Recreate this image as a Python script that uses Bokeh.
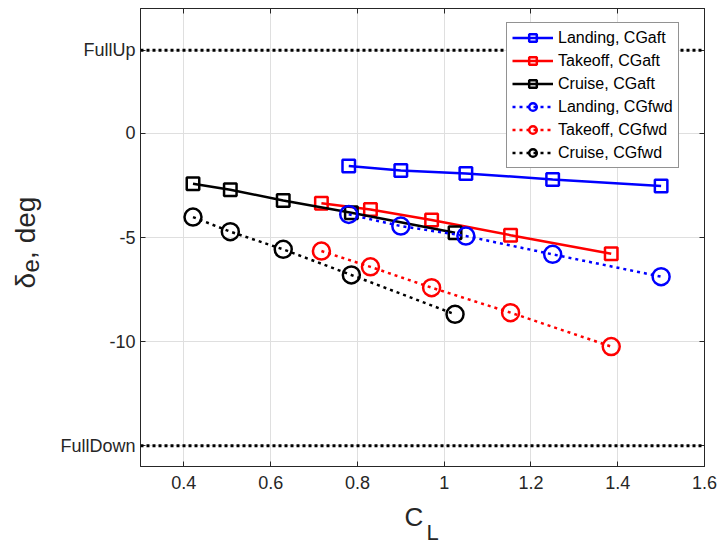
from bokeh.plotting import figure
from bokeh.models import (Range1d, FixedTicker, LinearAxis, Span, Title,
                          Legend, LegendItem)
from bokeh.embed import file_html
from bokeh.resources import INLINE

# ---------------- data ----------------
cl_landing = [0.78, 0.90, 1.05, 1.25, 1.50]
cl_takeoff = [0.717, 0.83, 0.971, 1.153, 1.385]
cl_cruise = [0.421, 0.507, 0.629, 0.786, 1.025]

de_landing_aft = [-1.57, -1.78, -1.92, -2.21, -2.53]
de_takeoff_aft = [-3.36, -3.65, -4.16, -4.89, -5.78]
de_cruise_aft = [-2.42, -2.71, -3.22, -3.81, -4.77]

de_landing_fwd = [-3.89, -4.45, -4.93, -5.81, -6.88]
de_takeoff_fwd = [-5.65, -6.41, -7.41, -8.61, -10.24]
de_cruise_fwd = [-4.02, -4.72, -5.57, -6.80, -8.69]

full_up = 4
full_down = -15

x_ticks = [0.4, 0.6, 0.8, 1.0, 1.2, 1.4, 1.6]
x_tick_labels = ["0.4", "0.6", "0.8", "1", "1.2", "1.4", "1.6"]
y_ticks = [-15, -10, -5, 0, 4]
y_tick_labels = ["FullDown", "-10", "-5", "0", "FullUp"]

series_labels = ["Landing, CGaft", "Takeoff, CGaft", "Cruise, CGaft",
                 "Landing, CGfwd", "Takeoff, CGfwd", "Cruise, CGfwd"]

x_lim = (0.3, 1.6)
y_lim = (-16, 6)

# ---------------- styling ----------------
FONT = "Liberation Sans"
AX = "#262626"

p = figure(frame_width=564, frame_height=458,
           x_range=Range1d(*x_lim), y_range=Range1d(*y_lim),
           output_backend="svg", toolbar_location=None,
           min_border_left=140, min_border_right=14,
           min_border_top=8, min_border_bottom=78)
p.background_fill_color = "white"
p.border_fill_color = "white"
p.outline_line_color = AX
p.outline_line_width = 1

xt = FixedTicker(ticks=x_ticks)
yt = FixedTicker(ticks=y_ticks)

for ax in p.xaxis:
    ax.ticker = xt
    ax.major_label_overrides = {t: s for t, s in zip(x_ticks, x_tick_labels)}
for ax in p.yaxis:
    ax.ticker = yt
    ax.major_label_overrides = {t: s for t, s in zip(y_ticks, y_tick_labels)}

for ax in list(p.xaxis) + list(p.yaxis):
    ax.major_tick_in = 5
    ax.major_tick_out = 0
    ax.minor_tick_line_color = None
    ax.axis_line_color = AX
    ax.major_tick_line_color = AX
    ax.major_label_text_font = FONT
    ax.major_label_text_font_size = "18px"
    ax.major_label_text_color = AX
p.xaxis.major_label_standoff = 9
p.yaxis.major_label_standoff = 5

# mirrored axes (box with ticks, no labels)
top = LinearAxis(ticker=xt, major_tick_in=5, major_tick_out=0,
                 major_label_text_font_size="1px",
                 major_label_text_color=None, major_label_standoff=0,
                 minor_tick_line_color=None, axis_line_color=AX,
                 major_tick_line_color=AX)
right = LinearAxis(ticker=yt, major_tick_in=5, major_tick_out=0,
                   major_label_text_font_size="1px",
                   major_label_text_color=None, major_label_standoff=0,
                   minor_tick_line_color=None, axis_line_color=AX,
                   major_tick_line_color=AX)
p.add_layout(top, "above")
p.add_layout(right, "right")

p.xgrid.ticker = xt
p.ygrid.ticker = yt
for g in (p.xgrid, p.ygrid):
    g.grid_line_color = "#dfdfdf"
    g.grid_line_width = 1

# limit lines
for v in (full_up, full_down):
    p.add_layout(Span(location=v, dimension="width", line_color="black",
                      line_width=3, line_dash="3 3"))

LW = 2.5
colors = ["#0000ff", "#ff0000", "#000000"]
xs = [cl_landing, cl_takeoff, cl_cruise]
aft = [de_landing_aft, de_takeoff_aft, de_cruise_aft]
fwd = [de_landing_fwd, de_takeoff_fwd, de_cruise_fwd]

items = []
for i in range(3):
    l = p.line(xs[i], aft[i], line_color=colors[i], line_width=LW)
    m = p.scatter(xs[i], aft[i], marker="square", size=12.5,
                  fill_color=None, line_color=colors[i], line_width=LW)
    items.append(LegendItem(label=series_labels[i], renderers=[l, m]))
for i in range(3):
    l = p.line(xs[i], fwd[i], line_color=colors[i], line_width=LW,
               line_dash="3 4")
    m = p.scatter(xs[i], fwd[i], marker="circle", size=17,
                  fill_color=None, line_color=colors[i], line_width=LW)
    items.append(LegendItem(label=series_labels[3 + i], renderers=[l, m]))

legend = Legend(items=items, location=(366, 298),
                label_text_font=FONT, label_text_font_size="16px",
                label_text_color="black",
                glyph_width=41, glyph_height=19, label_height=19,
                label_standoff=5, spacing=4, padding=5,
                border_line_color=AX, border_line_width=1,
                background_fill_color="white", background_fill_alpha=1)
p.add_layout(legend)

# axis labels as side-panel titles (C with subscript L, delta with subscript e)
p.add_layout(Title(text="C", align="left", offset=264, vertical_align="top",
                   standoff=21, text_font=FONT, text_font_size="26px",
                   text_font_style="normal", text_color=AX), "below")
p.add_layout(Title(text="L", align="left", offset=286, vertical_align="top",
                   standoff=-49, text_font=FONT, text_font_size="22px",
                   text_font_style="normal", text_color=AX), "below")

p.add_layout(Title(text="e", align="left", offset=194, vertical_align="bottom",
                   standoff=38, text_font=FONT, text_font_size="24px",
                   text_font_style="normal", text_color=AX), "left")
p.add_layout(Title(text="δ\u2002, deg", align="left", offset=178,
                   vertical_align="bottom", standoff=-80, text_font=FONT,
                   text_font_size="28px", text_font_style="normal",
                   text_color=AX), "left")

open("out.html", "w").write(file_html(p, INLINE))
